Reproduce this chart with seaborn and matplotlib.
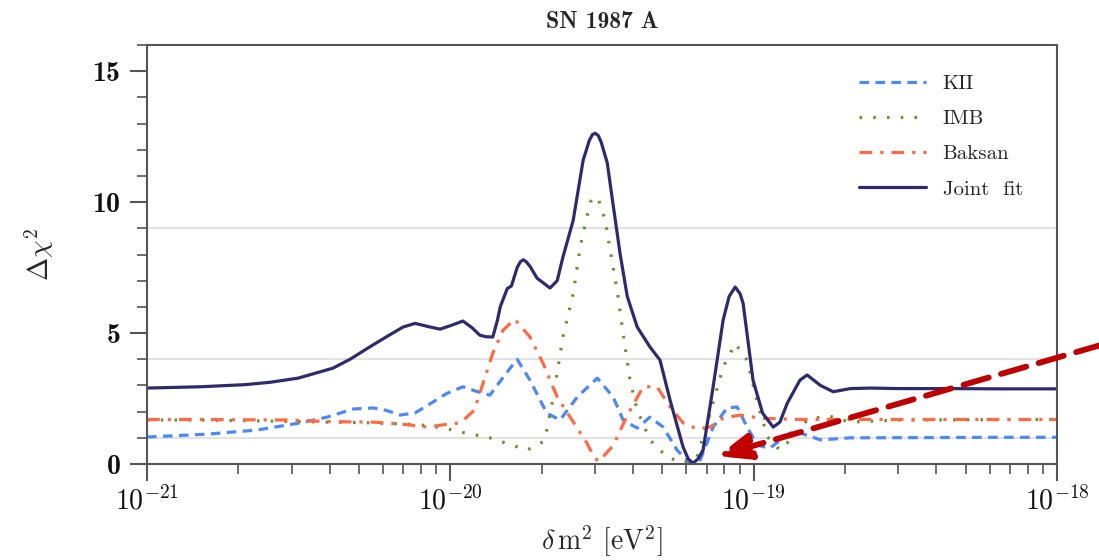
import numpy as np
import pandas as pd
import matplotlib
matplotlib.use("Agg")
import matplotlib.pyplot as plt
from matplotlib.ticker import MultipleLocator, FixedLocator, LogLocator, FuncFormatter
import seaborn as sns

kii_x = [1.00e-21, 1.58e-21, 2.31e-21, 3.20e-21, 3.92e-21, 4.78e-21, 5.56e-21, 6.14e-21,
         6.83e-21, 7.65e-21, 8.77e-21, 9.75e-21, 1.10e-20, 1.20e-20, 1.35e-20, 1.49e-20,
         1.66e-20, 1.83e-20, 2.08e-20, 2.30e-20, 2.62e-20, 3.05e-20, 3.44e-20, 3.71e-20,
         4.13e-20, 4.55e-20, 5.03e-20, 5.59e-20, 6.17e-20, 6.66e-20, 7.35e-20, 8.17e-20,
         8.82e-20, 9.51e-20, 1.03e-19, 1.13e-19, 1.22e-19, 1.35e-19, 1.50e-19, 1.66e-19,
         2.08e-19, 6.49e-19, 1.00e-18]
kii_y = [1.03, 1.14, 1.30, 1.57, 1.79, 2.10, 2.14, 2.05,
         1.87, 1.95, 2.37, 2.70, 2.95, 2.80, 2.63, 3.30,
         4.00, 3.20, 1.94, 1.68, 2.56, 3.28, 2.56, 1.68,
         1.37, 1.79, 1.41, 0.53, 0.04, 0.15, 1.41, 2.14,
         2.18, 1.41, 0.72, 0.60, 0.90, 1.25, 1.10, 0.92,
         1.00, 1.02, 1.02]

imb_x = [1.00e-21, 1.50e-21, 3.20e-21, 5.56e-21, 6.83e-21, 8.01e-21, 8.90e-21, 9.75e-21,
         1.04e-20, 1.35e-20, 1.79e-20, 2.02e-20, 2.08e-20, 2.18e-20, 2.35e-20, 2.54e-20,
         2.68e-20, 2.89e-20, 2.98e-20, 3.07e-20, 3.24e-20, 3.36e-20, 3.55e-20, 3.71e-20,
         3.91e-20, 4.13e-20, 4.55e-20, 5.18e-20, 5.85e-20, 6.51e-20, 7.18e-20, 7.93e-20,
         8.69e-20, 9.51e-20, 1.03e-19, 1.11e-19, 1.22e-19, 1.35e-19, 1.50e-19, 1.75e-19,
         2.08e-19, 3.04e-19, 1.00e-18]
imb_y = [1.68, 1.68, 1.62, 1.57, 1.53, 1.49, 1.42, 1.35,
         1.26, 1.00, 0.53, 0.85, 1.30, 2.50, 4.85, 6.50,
         8.30, 10.00, 10.20, 10.15, 9.30, 8.20, 6.60, 5.00,
         3.20, 2.06, 0.92, 0.27, 0.04, 0.27, 1.94, 3.70,
         4.60, 3.97, 2.32, 1.03, 0.53, 1.03, 1.68, 1.85,
         1.60, 1.68, 1.70]

baksan_x = [1.00e-21, 1.50e-21, 2.96e-21, 3.92e-21, 5.56e-21, 6.83e-21, 8.44e-21, 9.75e-21,
            1.08e-20, 1.20e-20, 1.25e-20, 1.38e-20, 1.49e-20, 1.63e-20, 1.83e-20, 2.02e-20,
            2.25e-20, 2.48e-20, 2.82e-20, 2.95e-20, 3.07e-20, 3.20e-20, 3.44e-20, 3.83e-20,
            4.32e-20, 4.80e-20, 5.30e-20, 5.85e-20, 6.51e-20, 7.18e-20, 7.93e-20, 9.02e-20,
            1.05e-19, 1.42e-19, 1.00e-18]
baksan_y = [1.70, 1.70, 1.68, 1.62, 1.60, 1.53, 1.41, 1.52,
            1.57, 2.06, 2.70, 4.23, 5.10, 5.53, 4.85, 3.85,
            2.56, 1.80, 0.80, 0.35, 0.10, 0.30, 0.70, 1.85,
            2.95, 2.95, 2.18, 1.57, 1.34, 1.41, 1.75, 1.87,
            1.75, 1.70, 1.70]

joint_x = [1.00e-21, 1.50e-21, 2.10e-21, 2.54e-21, 3.15e-21, 4.10e-21, 4.67e-21, 5.35e-21,
           6.14e-21, 6.98e-21, 7.65e-21, 8.44e-21, 9.25e-21, 1.01e-20, 1.10e-20, 1.18e-20,
           1.25e-20, 1.31e-20, 1.38e-20, 1.43e-20, 1.46e-20, 1.54e-20, 1.59e-20, 1.66e-20,
           1.70e-20, 1.74e-20, 1.78e-20, 1.83e-20, 1.93e-20, 2.13e-20, 2.25e-20, 2.35e-20,
           2.54e-20, 2.74e-20, 2.87e-20, 2.94e-20, 3.00e-20, 3.07e-20, 3.14e-20, 3.29e-20,
           3.44e-20, 3.63e-20, 3.83e-20, 4.13e-20, 4.55e-20, 4.91e-20, 5.30e-20, 5.85e-20,
           6.08e-20, 6.31e-20, 6.56e-20, 6.81e-20, 7.35e-20, 7.93e-20, 8.30e-20, 8.69e-20,
           9.02e-20, 9.23e-20, 9.95e-20, 1.07e-19, 1.16e-19, 1.22e-19, 1.29e-19, 1.42e-19,
           1.50e-19, 1.66e-19, 1.83e-19, 2.08e-19, 2.42e-19, 3.04e-19, 4.44e-19, 6.49e-19,
           1.00e-18]
joint_y = [2.90, 2.95, 3.03, 3.12, 3.28, 3.66, 4.00, 4.43,
           4.85, 5.23, 5.37, 5.25, 5.15, 5.30, 5.46, 5.20,
           4.92, 4.86, 4.85, 5.50, 6.00, 6.70, 6.80, 7.50,
           7.72, 7.80, 7.72, 7.55, 7.10, 6.72, 7.00, 7.90,
           9.30, 11.60, 12.35, 12.58, 12.63, 12.55, 12.30, 11.50,
           9.90, 8.00, 6.40, 5.23, 4.47, 3.97, 2.44, 0.65,
           0.20, 0.03, 0.20, 0.53, 2.95, 5.50, 6.40, 6.76,
           6.50, 6.13, 3.20, 1.94, 1.41, 1.60, 2.32, 3.20,
           3.40, 3.00, 2.76, 2.88, 2.90, 2.88, 2.88, 2.87,
           2.87]

ref_levels = [1, 4, 9]
x_major = [1e-21, 1e-20, 1e-19, 1e-18]
detectors = ["KII", "IMB", "Baksan", "Joint  fit"]
colors = {"KII": "#4d88f7", "IMB": "#6e8f30", "Baksan": "#ff6a45", "Joint  fit": "#2e2a6c"}
dashes = {"KII": (3, 2), "IMB": (0.8, 3.5), "Baksan": (4, 2.5, 1, 2.5), "Joint  fit": ""}

frames = []
for name, xs, ys in [("KII", kii_x, kii_y), ("IMB", imb_x, imb_y),
                     ("Baksan", baksan_x, baksan_y), ("Joint  fit", joint_x, joint_y)]:
    frames.append(pd.DataFrame({"dm2": xs, "dchi2": ys, "detector": name}))
df = pd.concat(frames, ignore_index=True)

sns.set_style("ticks")
plt.rcParams["font.family"] = ["cmr10", "DejaVu Serif"]
plt.rcParams["mathtext.fontset"] = "cm"
plt.rcParams["axes.formatter.use_mathtext"] = True
plt.rcParams["axes.unicode_minus"] = False

fig = plt.figure(figsize=(10.99, 5.6), dpi=100)
ax = fig.add_axes([0.1338, 0.1714, 0.8280, 0.7482])

for lvl in ref_levels:
    ax.axhline(lvl, color="#e2e2e2", lw=1.5, zorder=0)

sns.lineplot(data=df, x="dm2", y="dchi2", hue="detector", style="detector",
             hue_order=detectors, style_order=detectors, palette=colors, dashes=dashes,
             estimator=None, sort=True, linewidth=2.3, ax=ax)

ax.set_xscale("log")
ax.set_xlim(1e-21, 1e-18)
ax.set_ylim(0, 16)
ax.yaxis.set_major_locator(MultipleLocator(5))
ax.yaxis.set_minor_locator(MultipleLocator(1))
ax.xaxis.set_major_locator(FixedLocator(x_major))
ax.xaxis.set_minor_locator(LogLocator(base=10, subs=np.arange(2, 10), numticks=20))
ax.xaxis.set_major_formatter(FuncFormatter(
    lambda v, pos: r"$\mathbf{10^{%d}}$" % int(round(np.log10(v)))))

for sp in ax.spines.values():
    sp.set_color("#555555")
    sp.set_linewidth(1.5)
ax.tick_params(axis="both", which="major", direction="out", length=12, width=1.5,
               color="#555555", labelsize=20, labelcolor="#111111")
ax.tick_params(axis="both", which="minor", direction="out", length=7, width=1.2,
               color="#555555")
ax.tick_params(axis="y", which="major", pad=7)
ax.tick_params(axis="x", which="major", pad=4)
for lbl in ax.get_yticklabels():
    lbl.set_fontfamily(["cmb10", "DejaVu Serif"])

ax.set_title("SN 1987 A", fontsize=17, pad=12, fontfamily=["cmb10", "DejaVu Serif"])
ax.set_xlabel(r"$\delta\,\mathrm{m}^2$ [eV$^2$]", fontsize=20, labelpad=6)
ax.set_ylabel(r"$\Delta\chi^2$", fontsize=20, labelpad=26)

sns.move_legend(ax, "upper left", bbox_to_anchor=(0.762, 0.975), frameon=False,
                title=None, fontsize=15, handlelength=3.2, handletextpad=0.8,
                labelspacing=0.8)

# red dashed arrow pointing at the best-fit minimum
ax.annotate("", xy=(7.6e-20, 0.3), xytext=(1.4e-18, 4.55),
            arrowprops=dict(arrowstyle="-|>,head_length=2.0,head_width=0.8",
                            color="#c00000", lw=4.2, linestyle=(0, (4.5, 2.2)),
                            shrinkA=0, shrinkB=0),
            annotation_clip=False)

fig.savefig("out.png", dpi=100)
